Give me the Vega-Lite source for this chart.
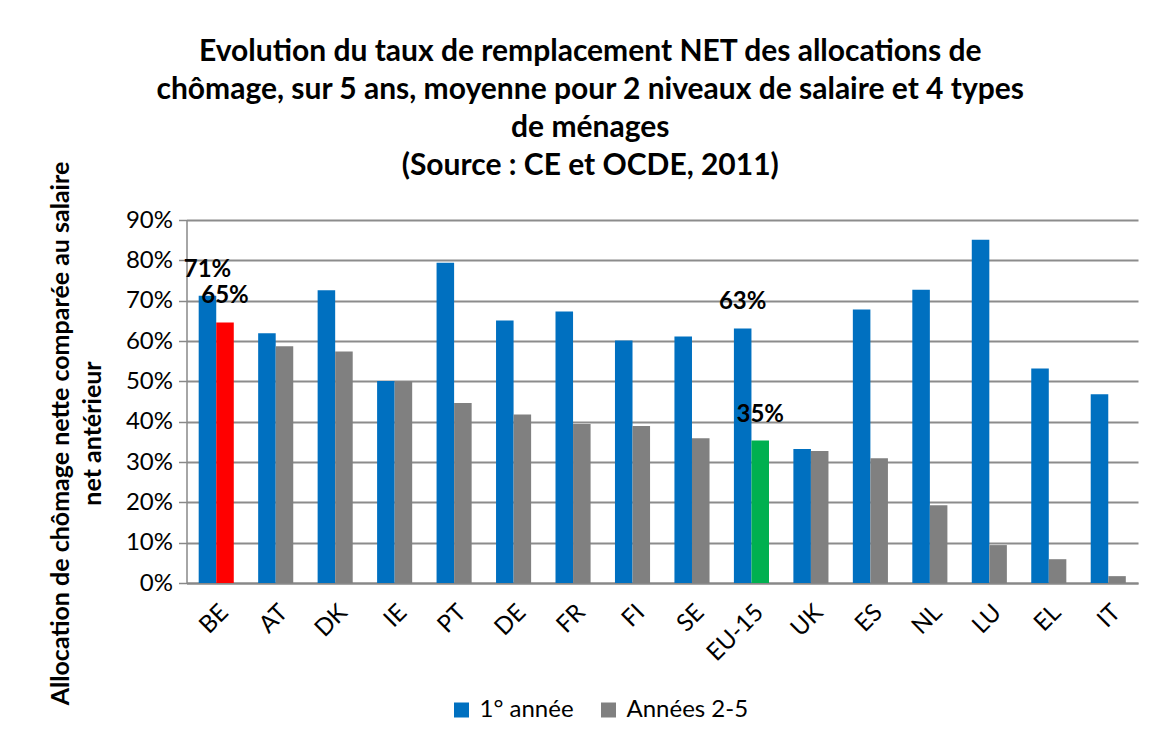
{
  "$schema": "https://vega.github.io/schema/vega-lite/v6.json",
  "autosize": "none",
  "width": 951.5,
  "height": 363,
  "padding": {"left": 186.5, "top": 220, "right": 15, "bottom": 161},
  "background": "white",
  "config": {
    "font": "Lato",
    "view": {"stroke": null}
  },
  "title": {
    "text": ["Evolution du taux de remplacement NET des allocations de", "chômage, sur 5 ans, moyenne pour 2 niveaux de salaire et 4 types", "de ménages", "(Source : CE et OCDE, 2011)"],
    "font": "Lato",
    "fontSize": 30,
    "fontWeight": "bold",
    "lineHeight": 38,
    "color": "black",
    "anchor": "middle",
    "dx": -72,
    "offset": -20
  },
  "data": {
    "values": [
      {"pays": "BE", "serie": "1° année", "couleur": "1° année", "valeur": 0.712, "label": "71%"},
      {"pays": "BE", "serie": "Années 2-5", "couleur": "BE", "valeur": 0.646, "label": "65%"},
      {"pays": "AT", "serie": "1° année", "couleur": "1° année", "valeur": 0.619, "label": ""},
      {"pays": "AT", "serie": "Années 2-5", "couleur": "Années 2-5", "valeur": 0.587, "label": ""},
      {"pays": "DK", "serie": "1° année", "couleur": "1° année", "valeur": 0.726, "label": ""},
      {"pays": "DK", "serie": "Années 2-5", "couleur": "Années 2-5", "valeur": 0.574, "label": ""},
      {"pays": "IE", "serie": "1° année", "couleur": "1° année", "valeur": 0.501, "label": ""},
      {"pays": "IE", "serie": "Années 2-5", "couleur": "Années 2-5", "valeur": 0.500, "label": ""},
      {"pays": "PT", "serie": "1° année", "couleur": "1° année", "valeur": 0.794, "label": ""},
      {"pays": "PT", "serie": "Années 2-5", "couleur": "Années 2-5", "valeur": 0.446, "label": ""},
      {"pays": "DE", "serie": "1° année", "couleur": "1° année", "valeur": 0.651, "label": ""},
      {"pays": "DE", "serie": "Années 2-5", "couleur": "Années 2-5", "valeur": 0.418, "label": ""},
      {"pays": "FR", "serie": "1° année", "couleur": "1° année", "valeur": 0.673, "label": ""},
      {"pays": "FR", "serie": "Années 2-5", "couleur": "Années 2-5", "valeur": 0.394, "label": ""},
      {"pays": "FI", "serie": "1° année", "couleur": "1° année", "valeur": 0.601, "label": ""},
      {"pays": "FI", "serie": "Années 2-5", "couleur": "Années 2-5", "valeur": 0.389, "label": ""},
      {"pays": "SE", "serie": "1° année", "couleur": "1° année", "valeur": 0.611, "label": ""},
      {"pays": "SE", "serie": "Années 2-5", "couleur": "Années 2-5", "valeur": 0.359, "label": ""},
      {"pays": "EU-15", "serie": "1° année", "couleur": "1° année", "valeur": 0.631, "label": "63%"},
      {"pays": "EU-15", "serie": "Années 2-5", "couleur": "EU-15", "valeur": 0.353, "label": "35%"},
      {"pays": "UK", "serie": "1° année", "couleur": "1° année", "valeur": 0.332, "label": ""},
      {"pays": "UK", "serie": "Années 2-5", "couleur": "Années 2-5", "valeur": 0.327, "label": ""},
      {"pays": "ES", "serie": "1° année", "couleur": "1° année", "valeur": 0.678, "label": ""},
      {"pays": "ES", "serie": "Années 2-5", "couleur": "Années 2-5", "valeur": 0.309, "label": ""},
      {"pays": "NL", "serie": "1° année", "couleur": "1° année", "valeur": 0.727, "label": ""},
      {"pays": "NL", "serie": "Années 2-5", "couleur": "Années 2-5", "valeur": 0.193, "label": ""},
      {"pays": "LU", "serie": "1° année", "couleur": "1° année", "valeur": 0.851, "label": ""},
      {"pays": "LU", "serie": "Années 2-5", "couleur": "Années 2-5", "valeur": 0.094, "label": ""},
      {"pays": "EL", "serie": "1° année", "couleur": "1° année", "valeur": 0.532, "label": ""},
      {"pays": "EL", "serie": "Années 2-5", "couleur": "Années 2-5", "valeur": 0.059, "label": ""},
      {"pays": "IT", "serie": "1° année", "couleur": "1° année", "valeur": 0.468, "label": ""},
      {"pays": "IT", "serie": "Années 2-5", "couleur": "Années 2-5", "valeur": 0.017, "label": ""}
    ]
  },
  "encoding": {
    "x": {
      "field": "pays",
      "type": "nominal",
      "sort": null,
      "scale": {"paddingInner": 0.41, "paddingOuter": 0.205},
      "axis": {
        "title": null,
        "labelAngle": -45,
        "labelFontSize": 24,
        "labelColor": "black",
        "labelPadding": 17,
        "ticks": false,
        "domainColor": "#888888",
        "domainWidth": 2
      }
    },
    "xOffset": {"field": "serie", "type": "nominal", "sort": ["1° année", "Années 2-5"]},
    "y": {
      "field": "valeur",
      "type": "quantitative",
      "scale": {"domain": [0, 0.9], "nice": false},
      "axis": {
        "values": [0, 0.1, 0.2, 0.3, 0.4, 0.5, 0.6, 0.7, 0.8, 0.9],
        "format": ".0%",
        "title": ["Allocation de chômage nette comparée au salaire", "net antérieur"],
        "titleFontSize": 25,
        "titleFontWeight": "bold",
        "titleColor": "black",
        "titleLineHeight": 32,
        "titlePadding": 20,
        "titleY": 213,
        "labelFontSize": 24,
        "labelColor": "black",
        "labelPadding": 6,
        "tickSize": 8,
        "tickColor": "#888888",
        "tickWidth": 1.5,
        "domainColor": "#888888",
        "domainWidth": 1.5,
        "gridColor": "#8c8c8c",
        "gridWidth": 1.8,
        "gridOpacity": 1
      }
    }
  },
  "layer": [
    {
      "mark": {"type": "bar"},
      "encoding": {
        "color": {
          "field": "couleur",
          "type": "nominal",
          "scale": {"domain": ["1° année", "Années 2-5", "BE", "EU-15"], "range": ["#0070C0", "#808080", "#FF0000", "#00B050"]},
          "legend": {
            "values": ["1° année", "Années 2-5"],
            "title": null,
            "orient": "none",
            "direction": "horizontal",
            "legendX": 263,
            "legendY": 478,
            "symbolType": "square",
            "symbolSize": 225,
            "symbolStrokeWidth": 0,
            "labelFontSize": 24,
            "labelColor": "black",
            "columnPadding": 22,
            "labelOffset": 6
          }
        }
      }
    },
    {
      "transform": [{"filter": "datum.label != ''"}],
      "mark": {"type": "text", "fontSize": 24, "fontWeight": "bold", "color": "black", "baseline": "alphabetic", "dy": -19},
      "encoding": {"text": {"field": "label"}}
    }
  ]
}
